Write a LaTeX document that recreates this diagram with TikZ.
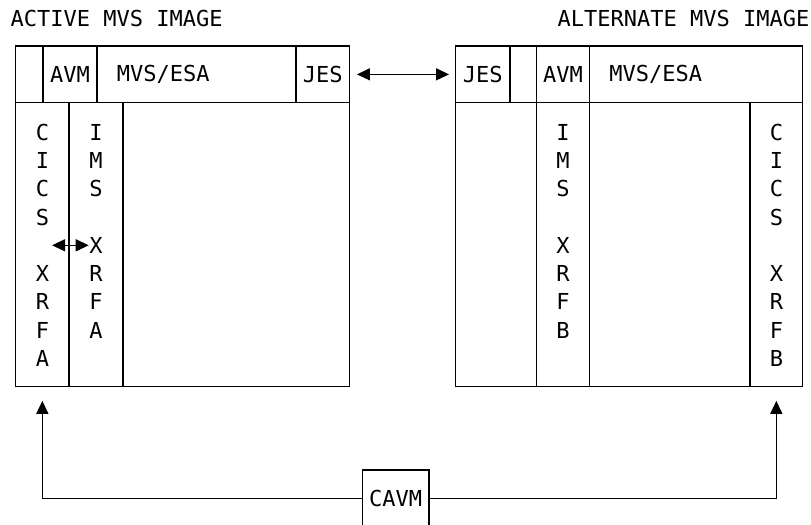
\documentclass[tikz,border=0pt]{standalone}
\usepackage{fontspec}
\setmonofont{DejaVu Sans Mono}
\usetikzlibrary{arrows.meta,fit,positioning}
\tikzset{
  cellbox/.style = {draw, inner sep = 0pt},
  txt/.style = {inner sep = 0pt, font = \ttfamily\fontsize{11}{14}\selectfont},
  arr/.style = {-{Triangle[length = 6.5pt, width = 6pt]}},
  dblarr/.style = {{Triangle[length = 6.5pt, width = 6pt]}-{Triangle[length = 6.5pt, width = 6pt]}}
}
\begin{document}
\begin{tikzpicture}[x = .5pt, y = -.5pt, line width = .65pt]
      \clip (0,0) rectangle (811,525);
      % titles
      \node [txt, anchor = west] (ltitle) at (10,18.5) {ACTIVE MVS IMAGE};
      \node [txt, anchor = west] (rtitle) at (557,18.5) {ALTERNATE MVS IMAGE};
      % active image
      \node [cellbox, fit = {(15.7,46) (43,102.7)}] (lgap) {};
      \node [cellbox, fit = {(43,46) (97,102.7)}] (lavm) {};
      \node [txt] (lavmtext) at (lavm.center) {AVM};
      \node [cellbox, fit = {(97,46) (296,102.7)}] (lmvs) {};
      \node [txt, right = 10pt of lmvs.west] (lmvstext) {MVS/ESA};
      \node [cellbox, fit = {(296,46) (349.3,102.7)}] (ljes) {};
      \node [txt] (ljestext) at (ljes.center) {JES};
      \node [cellbox, fit = {(15.7,102.7) (69,386.2)}] (lcics) {};
      \node [cellbox, fit = {(69,102.7) (123,386.2)}] (lims) {};
      \node [cellbox, fit = {(123,102.7) (349.3,386.2)}] (lrest) {};
      \foreach \ch [count = \i from 0] in {C,I,C,S,,X,R,F,A}
        \node [txt] (lc-\i) at (42.4,{132.3 + 28.25*\i}) {\ch};
      \foreach \ch [count = \i from 0] in {I,M,S,,X,R,F,A}
        \node [txt] (li-\i) at (96,{132.3 + 28.25*\i}) {\ch};
      % alternate image
      \node [cellbox, fit = {(455.7,46) (510,102.7)}] (rjes) {};
      \node [txt] (rjestext) at (rjes.center) {JES};
      \node [cellbox, fit = {(510,46) (536.7,102.7)}] (rgap) {};
      \node [cellbox, fit = {(536.7,46) (589.5,102.7)}] (ravm) {};
      \node [txt] (ravmtext) at (ravm.center) {AVM};
      \node [cellbox, fit = {(589.5,46) (802.7,102.7)}] (rmvs) {};
      \node [txt, right = 10pt of rmvs.west] (rmvstext) {MVS/ESA};
      \node [cellbox, fit = {(455.7,102.7) (536.7,386.2)}] (rleft) {};
      \node [cellbox, fit = {(536.7,102.7) (589.5,386.2)}] (rims) {};
      \node [cellbox, fit = {(589.5,102.7) (750,386.2)}] (rrest) {};
      \node [cellbox, fit = {(750,102.7) (802.7,386.2)}] (rcics) {};
      \foreach \ch [count = \i from 0] in {I,M,S,,X,R,F,B}
        \node [txt] (ri-\i) at (563,{132.3 + 28.25*\i}) {\ch};
      \foreach \ch [count = \i from 0] in {C,I,C,S,,X,R,F,B}
        \node [txt] (rc-\i) at (776.4,{132.3 + 28.25*\i}) {\ch};
      % CAVM
      \node [cellbox, fit = {(362.3,470) (429,526.7)}] (cavm) {};
      \node [txt] (cavmtext) at (cavm.center) {CAVM};
      % connectors
      \draw [dblarr, shorten <= 3.5pt, shorten >= 3pt] (ljes.east) -- (rjes.west);
      \draw [dblarr, shorten <= 4pt] (lc-4) -- (li-4.west);
      \draw [arr, shorten >= 7pt] (cavm.west) -| (lcics.south);
      \draw [arr, shorten >= 7pt] (cavm.east) -| (rcics.south);
    \end{tikzpicture}
\end{document}
